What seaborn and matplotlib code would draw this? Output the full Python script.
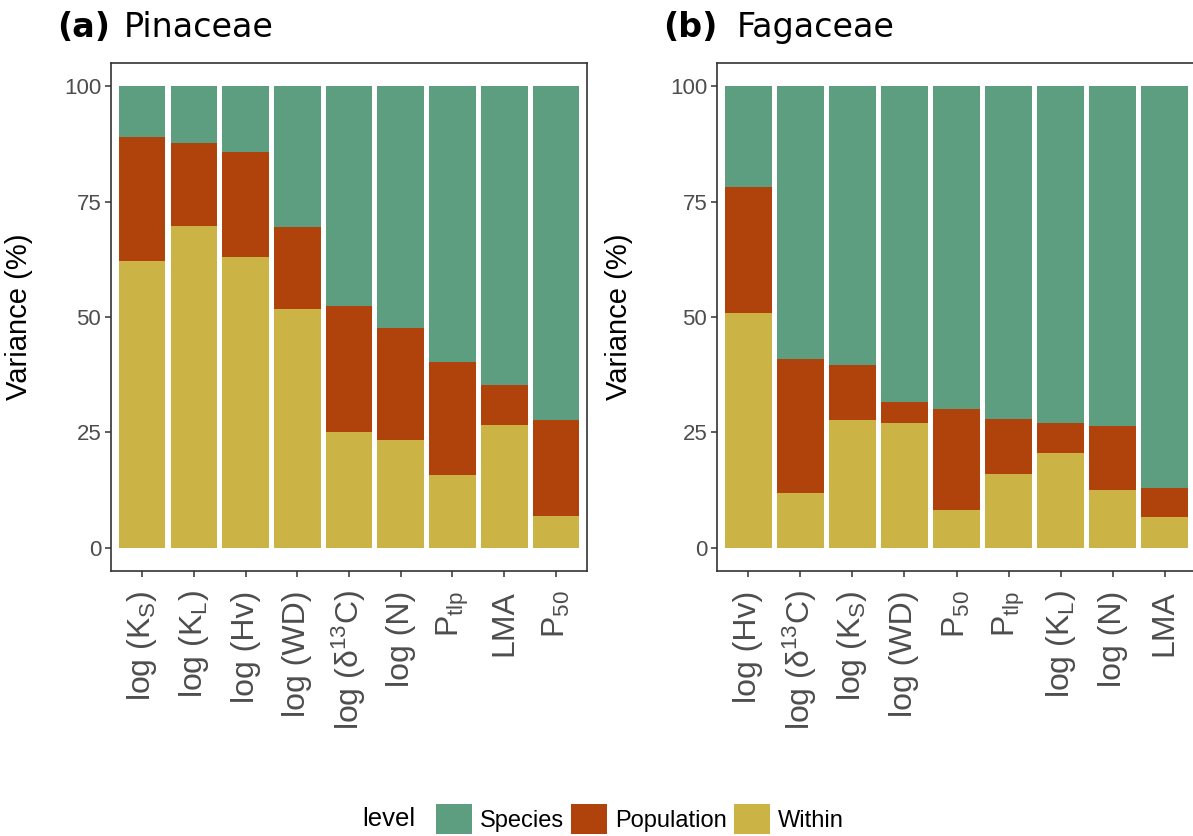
from matplotlib import pyplot as plt
from matplotlib.patches import Patch
import pandas as pd
import seaborn as sns

# Variance partitioning per trait (%)
pin_traits = ["log (K$_S$)", "log (K$_L$)", "log (Hv)", "log (WD)", "log (δ$^{13}$C)",
              "log (N)", "P$_{tlp}$", "LMA", "P$_{50}$"]
pin_within = [62.2, 69.8, 63.0, 51.8, 25.0, 23.3, 15.8, 26.6, 7.0]
pin_population = [26.8, 17.8, 22.7, 17.6, 27.4, 24.3, 24.4, 8.7, 20.6]

fag_traits = ["log (Hv)", "log (δ$^{13}$C)", "log (K$_S$)", "log (WD)", "P$_{50}$",
              "P$_{tlp}$", "log (K$_L$)", "log (N)", "LMA"]
fag_within = [50.9, 11.9, 27.8, 27.1, 8.2, 15.9, 20.6, 12.5, 6.8]
fag_population = [27.3, 28.9, 11.9, 4.6, 21.9, 12.1, 6.5, 13.8, 6.1]

levels = ["Species", "Population", "Within"]
colors = {"Species": "#5E9E80", "Population": "#B0430B", "Within": "#CBB345"}

sns.set_style("white")
plt.rcParams['font.family'] = ['Liberation Sans', 'DejaVu Sans']
plt.rcParams['mathtext.default'] = 'regular'
plt.rcParams['text.color'] = 'black'
plt.rcParams['axes.labelcolor'] = 'black'

fig = plt.figure(figsize=(11.93, 8.36), dpi=100)
ax1 = fig.add_axes([111 / 1193, 1 - 571 / 836, 476 / 1193, 508 / 836])
ax2 = fig.add_axes([717 / 1193, 1 - 571 / 836, 479 / 1193, 508 / 836])


def panel(ax, traits, within, population, ylab_x):
    df = pd.DataFrame({"trait": traits, "Within": within, "Population": population})
    df["Species"] = 100 - df["Within"] - df["Population"]
    # stacked bars: draw cumulative heights from top layer down
    df["top"] = df["Within"] + df["Population"] + df["Species"]
    df["mid"] = df["Within"] + df["Population"]
    for col, lev in [("top", "Species"), ("mid", "Population"), ("Within", "Within")]:
        sns.barplot(data=df, x="trait", y=col, color=colors[lev], saturation=1,
                    width=0.9, linewidth=0, ax=ax)
    ax.set_xlim(-0.6, len(traits) - 0.4)
    ax.set_ylim(-5, 105)
    ax.set_yticks([0, 25, 50, 75, 100])
    ax.set_xlabel("")
    ax.set_ylabel("Variance (%)", fontsize=21, color="black")
    ax.yaxis.set_label_coords(ylab_x, 0.5)
    ax.tick_params(axis="y", labelsize=16, labelcolor="#4d4d4d", colors="#333333",
                   length=4, width=1.1, pad=3, left=True)
    ax.tick_params(axis="x", labelsize=23, labelcolor="#4d4d4d", colors="#333333",
                   length=4, width=1.1, pad=10, bottom=True)
    ax.tick_params(axis="both", labelcolor="#4d4d4d")
    for lab in ax.get_xticklabels():
        lab.set_rotation(90)
        lab.set_ha("center")
        lab.set_va("top")
    for s in ax.spines.values():
        s.set_visible(True)
        s.set_color("#333333")
        s.set_linewidth(1.2)


panel(ax1, pin_traits, pin_within, pin_population, -0.164)
panel(ax2, fag_traits, fag_within, fag_population, -0.175)

# panel titles
fig.text(57 / 1193, 1 - 37 / 836, "(a)", fontsize=24, fontweight="bold",
         family="DejaVu Sans", va="baseline")
fig.text(124 / 1193, 1 - 37 / 836, "Pinaceae", fontsize=24, family="DejaVu Sans", va="baseline")
fig.text(663 / 1193, 1 - 37 / 836, "(b)", fontsize=24, fontweight="bold",
         family="DejaVu Sans", va="baseline")
fig.text(737 / 1193, 1 - 37 / 836, "Fagaceae", fontsize=24, family="DejaVu Sans", va="baseline")

# legend
fig.text(362 / 1193, 1 - 819 / 836, "level", fontsize=18.5, va="center", ha="left")
handles = [Patch(facecolor=colors[l], edgecolor="none", label=l) for l in levels]
fig.legend(handles=handles, loc="center", bbox_to_anchor=(640 / 1193, 1 - 819 / 836),
           ncol=3, frameon=False, fontsize=17, handlelength=1.53, handleheight=1.53,
           handletextpad=0.34, columnspacing=0.3, borderpad=0)

fig.savefig("out.png", dpi=100)
